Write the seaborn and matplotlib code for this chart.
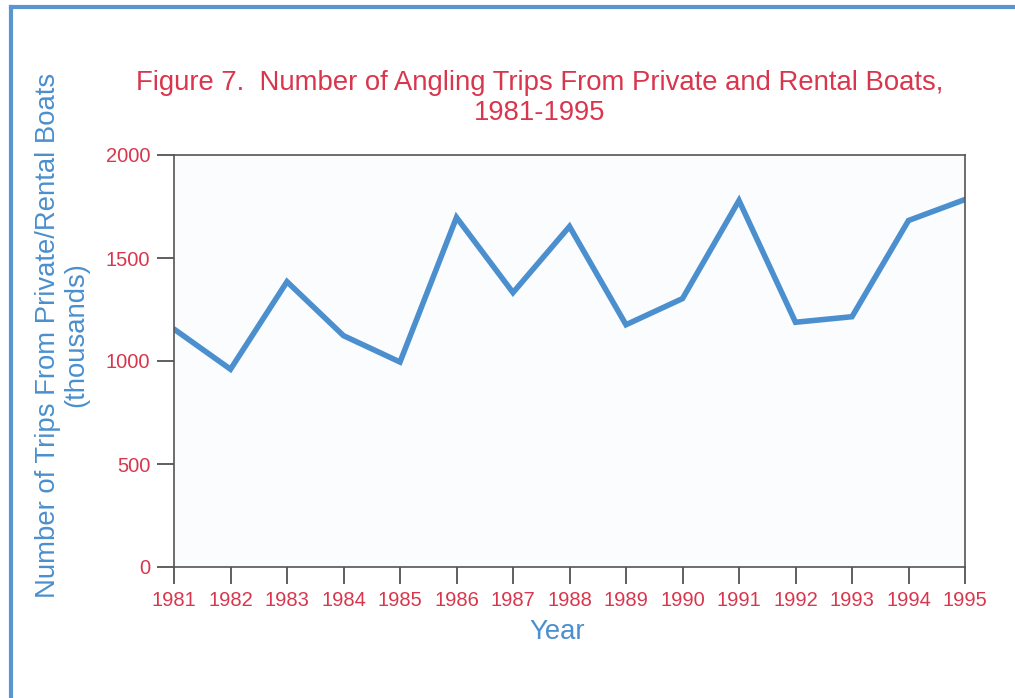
import matplotlib
matplotlib.use("Agg")
import matplotlib.pyplot as plt
import seaborn as sns
import pandas as pd
from matplotlib.lines import Line2D

years = [1981, 1982, 1983, 1984, 1985, 1986, 1987, 1988, 1989, 1990, 1991, 1992, 1993, 1994, 1995]
trips = [1155, 960, 1385, 1123, 995, 1697, 1332, 1653, 1176, 1303, 1779, 1188, 1215, 1682, 1784]
y_ticks = [0, 500, 1000, 1500, 2000]

title = "Figure 7.  Number of Angling Trips From Private and Rental Boats,\n1981-1995"
ylabel = "Number of Trips From Private/Rental Boats\n(thousands)"
xlabel = "Year"

RED = "#d9364d"
BLUE = "#4b8fce"
FRAME = "#5b95cf"

sns.set_style("white")
plt.rcParams['font.family'] = ['Liberation Sans', 'DejaVu Sans']

df = pd.DataFrame({"year": years, "trips": trips})

fig = plt.figure(figsize=(10.15, 6.98), dpi=100)
ax = fig.add_axes([174/1015, 1-567/698, (965-174)/1015, (567-155)/698])
sns.lineplot(data=df, x="year", y="trips", ax=ax, color=BLUE, linewidth=4, solid_joinstyle="miter")

ax.set_facecolor("#fafcfe")
ax.set_xlim(years[0], years[-1])
ax.set_ylim(0, 2000)
ax.set_xticks(years)
ax.set_xticklabels([str(y) for y in years])
ax.set_yticks(y_ticks)
ax.tick_params(axis="both", which="major", bottom=True, left=True, direction="out", length=12,
               width=1.2, color="#444444", labelcolor=RED, labelsize=14.5, pad=5)
ax.tick_params(axis="x", pad=5)
for s in ax.spines.values():
    s.set_color("#555555")
    s.set_linewidth(1.2)
    s.set_visible(True)
ax.set_xlabel("")
ax.set_ylabel("")

fig.text(540/1015, 1-98/698, title, ha="center", va="center", color=RED, fontsize=19.8, linespacing=1.16)
fig.text(62/1015, 1-335/698, ylabel, ha="center", va="center", rotation=90, color=BLUE,
         fontsize=19.8, linespacing=1.1)
fig.text(557/1015, 1-632/698, xlabel, ha="center", va="center", color=BLUE, fontsize=19.8)

fig.add_artist(Line2D([11/1015, 1.0], [1-6.5/698, 1-6.5/698], color=FRAME, linewidth=3,
                      transform=fig.transFigure, solid_capstyle="projecting"))
fig.add_artist(Line2D([11.3/1015, 11.3/1015], [0.0, 1-6.5/698], color=FRAME, linewidth=3,
                      transform=fig.transFigure, solid_capstyle="projecting"))

fig.savefig("out.png", dpi=100)
